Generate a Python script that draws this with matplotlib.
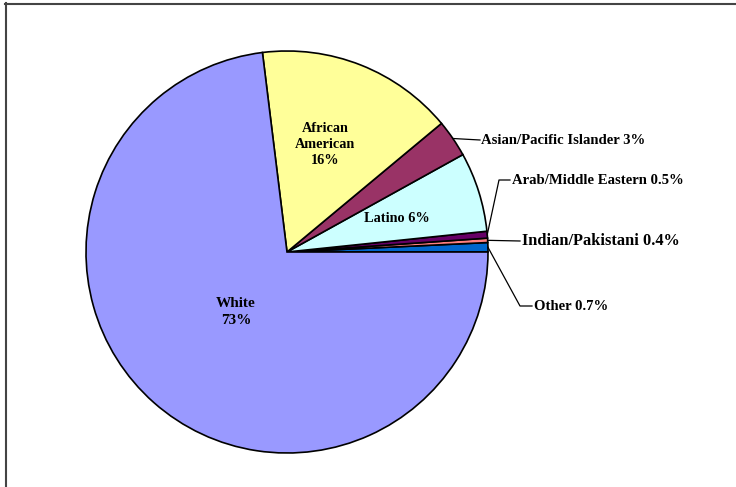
import numpy as np
import matplotlib.pyplot as plt
from matplotlib.lines import Line2D

# groups, counter-clockwise from 3 o'clock
groups = ['Other', 'Indian/Pakistani', 'Arab/Middle Eastern', 'Latino',
          'Asian/Pacific Islander', 'African American', 'White']
shares = [0.75, 0.35, 0.55, 6.4, 3.0, 15.9, 73.05]
labels = ['Other 0.7%', 'Indian/Pakistani 0.4%', 'Arab/Middle Eastern 0.5%',
          'Latino 6%', 'Asian/Pacific Islander 3%', 'African\nAmerican\n16%',
          'White\n73%']
colors = ['#0066CC', '#FF8080', '#660066', '#CCFFFF', '#993366', '#FFFF99', '#9999FF']

W, H = 736, 487
cx, cy, r = 287, H - 252, 201

fig = plt.figure(figsize=(W / 100, H / 100), dpi=100)
ax = fig.add_axes([0, 0, 1, 1])
wedges, _ = ax.pie(shares, colors=colors, startangle=0, counterclock=True,
                   center=(cx, cy), radius=r,
                   wedgeprops=dict(edgecolor='black', linewidth=1.2))
ax.set_xlim(0, W)
ax.set_ylim(0, H)
ax.set_aspect('equal')
ax.axis('off')

font = dict(family='Liberation Serif', weight='bold', color='black')

def edge(w):
    a = np.deg2rad((w.theta1 + w.theta2) / 2)
    return cx + r * np.cos(a), cy + r * np.sin(a)

# labels inside
ax.text(325, H - 144, labels[5], ha='center', va='center', fontsize=10.3,
        linespacing=1.3, **font)
ax.text(236, H - 312, labels[6], ha='center', va='center', fontsize=11,
        linespacing=1.45, **font)
ax.text(397, H - 219, labels[3], ha='center', va='center', fontsize=10.3, **font)

# leader labels
lk = dict(color='black', linewidth=0.9)
x0, y0 = edge(wedges[4])
ax.plot([x0, 480], [y0, H - 140], **lk)
ax.text(481, H - 140, labels[4], ha='left', va='center', fontsize=10.6, **font)

x0, y0 = edge(wedges[2])
ax.plot([x0, 499, 510], [y0, H - 180, H - 180], **lk)
ax.text(512, H - 180, labels[2], ha='left', va='center', fontsize=10.6, **font)

x0, y0 = edge(wedges[1])
ax.plot([x0, 520], [y0, H - 241], **lk)
ax.text(522, H - 241, labels[1], ha='left', va='center', fontsize=11.8, **font)

x0, y0 = edge(wedges[0])
ax.plot([x0, 520, 532], [y0, H - 306, H - 306], **lk)
ax.text(534, H - 306, labels[0], ha='left', va='center', fontsize=10.6, **font)

# frame (top and left only)
fig.add_artist(Line2D([5 / W, 1], [1 - 3.5 / H, 1 - 3.5 / H], color='#444444', lw=1.5))
fig.add_artist(Line2D([5.5 / W, 5.5 / W], [0, 1 - 3 / H], color='#444444', lw=1.5))

fig.savefig('out.png', dpi=100)
